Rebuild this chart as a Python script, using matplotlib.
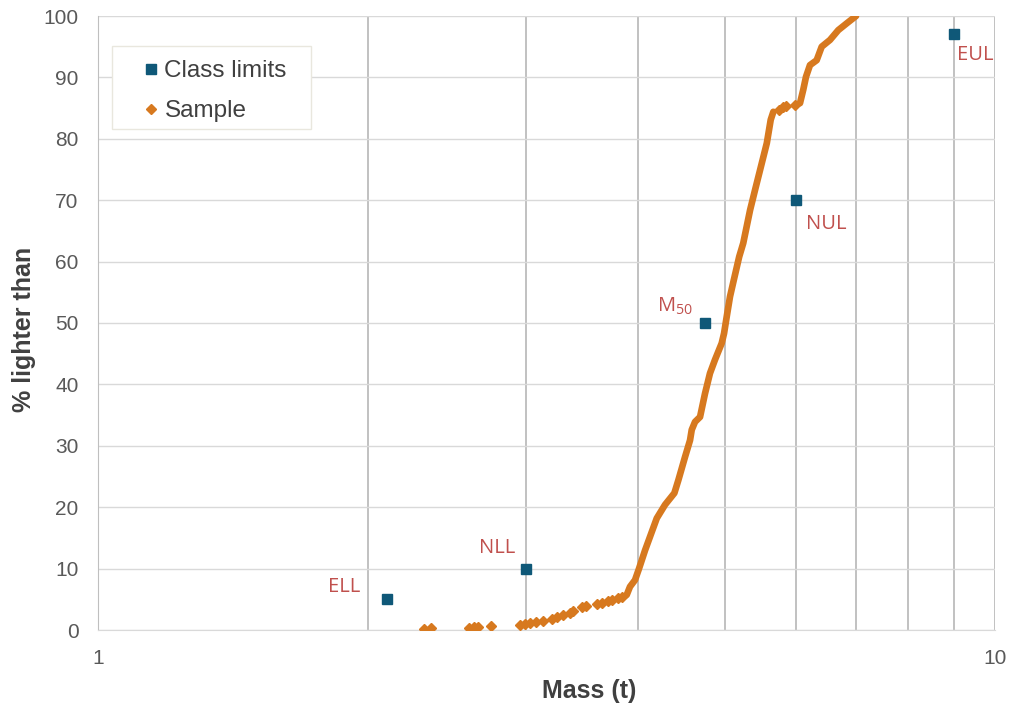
"""Cumulative mass curve of an armourstone sample against its class limits."""

import matplotlib

matplotlib.use("Agg")
import matplotlib.pyplot as plt  # noqa: E402
from matplotlib.patches import Rectangle  # noqa: E402
from matplotlib.ticker import FixedLocator, NullFormatter  # noqa: E402

# class limits (mass in t, % lighter than)
limit_names = ["ELL", "NLL", r"M$\mathregular{_{50}}$", "NUL", "EUL"]
limit_mass = [2.10, 3.00, 4.75, 6.00, 9.00]
limit_pct = [5, 10, 50, 70, 97]

# sparse lower tail of the sample
tail_mass = [2.309, 2.351, 2.592, 2.626, 2.653, 2.743, 2.954, 2.992, 3.031,
             3.078, 3.136, 3.205, 3.246, 3.302, 3.359, 3.387, 3.461, 3.499,
             3.597, 3.643, 3.706, 3.738, 3.802, 3.836]
tail_pct = [0.15, 0.3, 0.25, 0.45, 0.55, 0.65, 0.87, 0.98, 1.09, 1.25, 1.52,
            1.85, 2.06, 2.39, 2.82, 3.09, 3.69, 3.90, 4.23, 4.34, 4.67, 4.89,
            5.16, 5.33]

# dense main body of the sample
body_mass = [3.885, 3.918, 3.969, 4.010, 4.073, 4.125, 4.197, 4.287, 4.391,
             4.436, 4.513, 4.571, 4.591, 4.630, 4.690, 4.750, 4.811, 4.873,
             4.958, 4.988, 5.022, 5.065, 5.109, 5.186, 5.240, 5.333, 5.402,
             5.471, 5.567, 5.623, 5.661]
body_pct = [5.7, 7.05, 8.14, 10.0, 13.0, 15.2, 18.2, 20.4, 22.3, 24.4, 28.2,
            30.9, 32.6, 33.9, 34.7, 38.5, 41.8, 44.0, 46.7, 48.3, 51.0, 54.3,
            56.7, 60.8, 63.0, 68.4, 71.7, 74.9, 79.3, 83.1, 84.4]

# isolated stones around 85 %
gap_mass = [5.749, 5.808, 5.848, 5.984]
gap_pct = [84.7, 85.1, 85.3, 85.5]

# dense upper part of the sample
top_mass = [6.062, 6.113, 6.156, 6.219, 6.327, 6.409, 6.547, 6.688, 6.834, 7.000]
top_pct = [85.8, 88.0, 90.1, 92.0, 92.8, 95.0, 96.1, 97.7, 98.8, 100.0]

LIMIT_COLOR = "#0F5878"
SAMPLE_COLOR = "#D7791F"
LABEL_COLOR = "#C0504D"
TEXT_COLOR = "#595959"
AXIS_LABEL_COLOR = "#404040"
# label offsets in points (dx, dy, ha)
LABEL_OFFSETS = [(-19, 9, "right"), (-8, 15, "right"), (-9, 12, "right"),
                 (7, -17, "left"), (2, -15, "left")]

plt.rcParams["font.family"] = ["Liberation Sans", "DejaVu Sans"]

fig = plt.figure(figsize=(10.13, 7.08), dpi=100)
ax = fig.add_axes([98 / 1013, 78 / 708, 897 / 1013, 614 / 708])

ax.set_xscale("log")
ax.set_xlim(1, 10)
ax.set_ylim(0, 100)

ax.xaxis.set_minor_locator(FixedLocator(range(2, 10)))
ax.xaxis.set_minor_formatter(NullFormatter())
ax.set_xticks([1, 10], ["1", "10"])
ax.set_yticks(range(0, 101, 10))

ax.grid(True, axis="y", color="#D9D9D9", linewidth=1.0)
ax.grid(True, axis="x", which="both", color="#BCBCBC", linewidth=1.3)
ax.set_axisbelow(True)
for side in ("top", "right"):
    ax.spines[side].set_visible(False)
ax.spines["left"].set_color("#BFBFBF")
ax.spines["bottom"].set_color("#D9D9D9")
ax.tick_params(which="both", length=0, labelsize=15, labelcolor=TEXT_COLOR, pad=14)

marker_style = dict(color=SAMPLE_COLOR, marker="D", markersize=4.6, linestyle="none")
for masses, pcts in ((body_mass, body_pct), (top_mass, top_pct)):
    ax.plot(masses, pcts, color=SAMPLE_COLOR, linewidth=4.8,
            solid_capstyle="round", solid_joinstyle="round", zorder=3)
ax.plot(gap_mass, gap_pct, zorder=3, **marker_style)
(sample_handle,) = ax.plot(tail_mass, tail_pct, zorder=3, **marker_style)

(limit_handle,) = ax.plot(limit_mass, limit_pct, color=LIMIT_COLOR, marker="s",
                          markersize=6.5, linestyle="none", zorder=4)

for name, mass, pct, (dx, dy, ha) in zip(limit_names, limit_mass, limit_pct,
                                         LABEL_OFFSETS):
    ax.annotate(name, (mass, pct), xytext=(dx, dy), textcoords="offset points",
                ha=ha, va="center", fontsize=14.5, color=LABEL_COLOR,
                family="Open Sans")

ax.set_xlabel("Mass (t)", fontsize=18, fontweight="bold", color=AXIS_LABEL_COLOR)
ax.xaxis.set_label_coords(0.548, -0.079)
ax.set_ylabel("% lighter than", fontsize=18, fontweight="bold",
              color=AXIS_LABEL_COLOR)
ax.yaxis.set_label_coords(-0.069, 0.49)

# legend box drawn separately so the entries can sit inside it as in the source
ax.add_patch(Rectangle((0.0156, 0.816), 0.2219, 0.1352, transform=ax.transAxes,
                       facecolor="white", edgecolor="#E9E7DE", linewidth=1.0,
                       zorder=5))
legend = ax.legend([limit_handle, sample_handle], ["Class limits", "Sample"],
                   loc="upper left", bbox_to_anchor=(0.051, 0.928),
                   borderaxespad=0, borderpad=0, fontsize=17.5, frameon=False,
                   handlelength=0.6, handletextpad=0.25, labelspacing=0.75,
                   labelcolor=AXIS_LABEL_COLOR)
legend.set_zorder(6)

fig.savefig("out.png", dpi=100)
